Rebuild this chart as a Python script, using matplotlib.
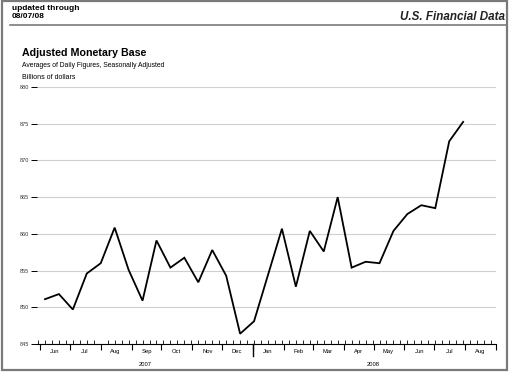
import pandas as pd
import matplotlib
matplotlib.use("Agg")
from matplotlib import pyplot as plt
import matplotlib.dates as mdates
from matplotlib.patches import Rectangle
from matplotlib.lines import Line2D
import matplotlib.transforms as mtrans

plt.rcParams['font.family'] = ['Liberation Sans', 'DejaVu Sans']

# biweekly averages, billions of dollars
dates = pd.date_range("2007-06-06", periods=31, freq="14D")
base = [851.1, 851.8, 849.7, 854.6, 856.0, 860.85, 855.1, 850.9, 859.1, 855.4,
        856.75, 853.4, 857.8, 854.3, 846.4, 848.1, 854.4, 860.7, 852.8, 860.4,
        857.6, 865.0, 855.4, 856.2, 856.0, 860.4, 862.7, 863.9, 863.5, 872.6,
        875.25]
yticks = [845, 850, 855, 860, 865, 870, 875, 880]
month_names = ["Jun", "Jul", "Aug", "Sep", "Oct", "Nov", "Dec",
               "Jan", "Feb", "Mar", "Apr", "May", "Jun", "Jul", "Aug"]
years = ["2007", "2008"]

W, H = 510, 373
fig = plt.figure(figsize=(W / 100, H / 100), dpi=100)


def fx(px):
    return px / W


def fy(py):
    return 1 - py / H


# frame and header rule
fig.patches.append(Rectangle((fx(2), fy(370)), 505 / W, 369 / H,
                             transform=fig.transFigure, fill=False,
                             edgecolor="#7a7a7a", lw=1.6))
fig.lines.append(Line2D([fx(10), fx(507)], [fy(25), fy(25)], transform=fig.transFigure,
                        color="#7a7a7a", lw=1.2))

fig.text(fx(12), fy(5), "updated through", fontsize=6.0, fontweight="bold", va="top")
fig.text(fx(12), fy(13.5), "08/07/08", fontsize=6.0, fontweight="bold", va="top")
fig.text(fx(505), fy(20), "U.S. Financial Data", fontsize=8.4, fontweight="bold",
         style="italic", ha="right", va="baseline", color="#222222")

fig.text(fx(22), fy(48), "Adjusted Monetary Base", fontsize=7.7, fontweight="bold", va="top")
fig.text(fx(22), fy(62), "Averages of Daily Figures, Seasonally Adjusted", fontsize=4.9, va="top")
fig.text(fx(22), fy(74), "Billions of dollars", fontsize=5.0, va="top")

ax = fig.add_axes([fx(37), fy(344), fx(496 - 37), fy(87) - fy(344)])
ax.plot(dates, base, color="black", lw=1.3, solid_joinstyle="miter")

x0 = pd.Timestamp("2007-05-29")
x1 = pd.Timestamp("2008-09-01")
ax.set_xlim(x0, x1)
ax.set_ylim(845, 880)

ax.set_yticks(yticks)
ax.set_yticklabels([str(v) for v in yticks], fontsize=4.0, color="#333333")
ax.tick_params(axis="y", length=4, width=0.7, pad=2, left=True)
ax.grid(axis="y", color="#cfcfcf", lw=0.8)
ax.set_axisbelow(True)

for s in ["top", "right", "left"]:
    ax.spines[s].set_visible(False)
ax.spines["bottom"].set_linewidth(0.8)

# monthly ticks below, weekly ticks above
ax.xaxis.set_major_locator(mdates.MonthLocator())
ax.xaxis.set_minor_locator(mdates.WeekdayLocator(byweekday=mdates.WE))
ax.tick_params(axis="x", which="major", direction="out", length=4, width=0.8, labelbottom=False)
ax.tick_params(axis="x", which="minor", direction="in", length=3, width=0.6)

trans = mtrans.blended_transform_factory(ax.transData, ax.transAxes)
months = pd.date_range("2007-06-01", periods=len(month_names), freq="MS")
for m, name in zip(months, month_names):
    ax.text(m + pd.Timedelta(days=15), -0.018, name, transform=trans,
            ha="center", va="top", fontsize=4.2)

# year divider and labels
jan = pd.Timestamp("2008-01-01")
ax.plot([jan, jan], [0, -0.045], transform=trans, color="black", lw=1.0, clip_on=False)
ax.text(pd.Timestamp("2007-09-15"), -0.07, years[0], transform=trans,
        ha="center", va="top", fontsize=4.2)
ax.text(pd.Timestamp("2008-05-01"), -0.07, years[1], transform=trans,
        ha="center", va="top", fontsize=4.2)

fig.savefig("out.png", dpi=100)
